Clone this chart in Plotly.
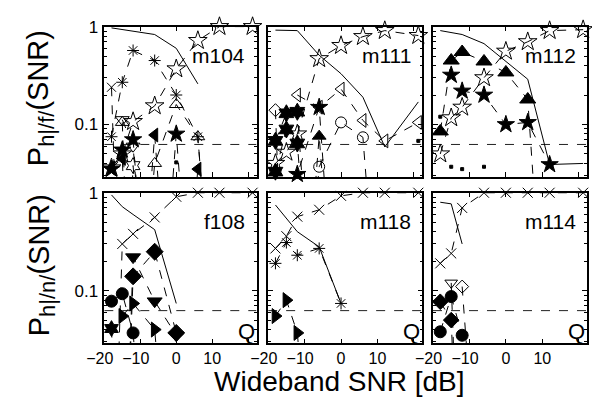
import math
import plotly.graph_objects as go

# ---------------- data ----------------
SNR = [-18, -15, -12, -6, 0, 6, 12, 21.2]   # last one = Q (quiet)
CHANCE = 1 / 16
X_RANGE = [-20, 22.3]
Y_MIN = 0.029

# panel m104 (P_h|/f/)
m104_err = [0.97, 0.93, 0.90, 0.83, 0.60, 0.26, None, None]
m104_f = [0.036, 0.05, 0.107, 0.155, 0.37, 0.72, 1.0, 1.0]
m104_ast = [0.075, 0.27, 0.57, 0.45, 0.20, 0.075, 0, None]
m104_x = [0.24, 0, None, None, None, None, None, None]
m104_triup = [None, 0.105, 0, 0.04, 0.16, 0.075, 0, None]
m104_tridown = [None, 0.112, 0.06, 0, None, None, None, None]
m104_hex = [None, 0, 0.038, 0, None, None, None, None]
m104_starf = [0.035, 0.055, 0.07, 0, 0.08, 0, None, None]
m104_trileft = [0.036, 0.045, 0, 0.078, 0, 0.035, None, None]
m104_dot = [None, None, None, None, 0.041, None, None, None]

# panel m111
m111_err = [0.92, 0.92, 0.91, 0.51, 0.33, 0.19, 0.059, 0.17]
m111_f = [0.04, 0.052, 0.08, 0.47, 0.64, 0.79, 0.91, 0.81]
m111_trileft = [None, None, 0.20, 0.15, 0.23, 0.11, 0.068, 0.105]
m111_circ = [None, None, 0, 0.037, 0.105, 0.074, 0, None]
m111_diam = [0.14, 0, None, None, None, None, None, None]
m111_hexA = [0.068, 0.13, 0.135, 0, None, None, None, None]
m111_hexB = [0.033, 0.089, 0.064, 0, None, None, None, None]
m111_starf = [None, 0, 0.031, 0.15, 0, None, None, None]
m111_triupf = [None, None, 0, 0.076, 0, None, None, None]
m111_dot = [None, None, None, None, None, None, None, 0.068]

# panel m112
m112_err = [0.91, 0.87, 0.83, 0.67, 0.44, 0.29, 0.039, 0.04]
m112_f = [0.05, 0.117, 0.15, 0.30, 0.56, 0.70, 0.91, 0.93]
m112_triupf = [0.085, 0.45, 0.55, 0.44, 0.34, 0.18, 0, None]
m112_starf = [None, 0.32, 0.22, 0.20, 0.10, 0.105, 0.039, None]
m112_dot = [0.12, 0.037, 0.035, 0.037, None, None, None, None]

# panel f108 (P_h|/n/)
f108_err = [0.95, 0.72, 0.60, 0.42, 0.074, None, None, None]
f108_x = [0, 0.30, 0.38, 0.56, 0.91, 1.0, 1.0, 1.0]
f108_tridown = [None, 0, 0.22, 0.078, 0.035, None, None, None]
f108_diam = [None, 0, 0.14, 0.25, 0.037, None, None, None]
f108_circ = [0.078, 0.093, 0.037, 0, None, None, None, None]
f108_triright = [None, 0.055, 0.074, 0.04, 0, None, None, None]
f108_hex = [0.041, 0, None, None, None, None, None, None]

# panel m118
m118_err = [0.75, 0.55, 0.40, 0.28, 0.074, None, None, None]
m118_x = [0.27, 0.36, 0.57, 0.67, 0.93, 1.0, 1.0, 1.0]
m118_ast = [0.19, 0.31, 0.23, 0.27, 0.074, None, None, None]
m118_triright = [0.055, 0.08, 0.037, 0, None, None, None, None]

# panel m114
m114_err = [0.80, 0.77, 0.30, None, None, None, None, None]
m114_x = [0.19, 0.24, 0.70, 1.0, 1.0, 1.0, 1.0, 1.0]
m114_tridown = [None, 0.12, 0, None, None, None, None, None]
m114_diam = [None, None, 0.11, 0, None, None, None, None]
m114_circ = [0.038, 0.087, 0.035, None, None, None, None, None]
m114_diamf = [0.077, 0.05, 0, None, None, None, None, None]

PANEL_NAMES = ["m104", "m111", "m112", "f108", "m118", "m114"]
Y_TITLES = ["P<sub><span style='font-size:22px'>h|/f/</span></sub>(SNR)",
            "P<sub><span style='font-size:22px'>h|/n/</span></sub>(SNR)"]
X_TITLE = "Wideband SNR [dB]"
X_TICKS = [-20, -10, 0, 10, 20]
X_TICKTEXT = ["\u221220\u2007", "\u221210\u2007", "0", "10", ""]

# ---------------- layout geometry (pixels) ----------------
W, H = 592, 398
COLS_PX = [(89, 246), (258, 417), (428, 587)]
ROWS_PX = [(18, 172), (188, 342)]
FONT = "Liberation Sans, Arial, Helvetica, sans-serif"

fig = go.Figure()

def ax_id(i):
    return "" if i == 0 else str(i + 1)

ZERO = 1e-4

def add(panel, vals, symbol=None, size=11, line="dash", lw=1.0):
    a = ax_id(panel)
    ys = [None if v is None else (ZERO if v == 0 else v) for v in vals]
    sizes = [0 if (v == 0 or v is None) else size for v in vals]
    mode = "lines" if symbol is None else ("markers" if line is None else "lines+markers")
    tr = dict(
        x=SNR, y=ys, mode=mode, showlegend=False, hoverinfo="skip",
        xaxis="x" + a, yaxis="y" + a, cliponaxis=False,
    )
    if line is not None:
        tr["line"] = dict(color="black", width=lw, dash=line)
    if symbol is not None:
        tr["marker"] = dict(symbol=symbol, size=sizes, color="black", opacity=1,
                            line=dict(color="black", width=1))
    fig.add_trace(go.Scatter(**tr))

# chance lines
for p in range(6):
    a = ax_id(p)
    fig.add_trace(go.Scatter(x=X_RANGE, y=[CHANCE, CHANCE], mode="lines",
                             line=dict(color="#222", width=1, dash="dash"),
                             showlegend=False, hoverinfo="skip",
                             xaxis="x" + a, yaxis="y" + a))

# panel 0: m104
add(0, m104_err, None, line="solid")
add(0, m104_f, "star-open", 14)
add(0, m104_ast, "asterisk-open", 10)
add(0, m104_x, "x-thin-open", 9)
add(0, m104_triup, "triangle-up-open", 12)
add(0, m104_tridown, "triangle-down-open", 12)
add(0, m104_hex, "hexagram-open", 12)
add(0, m104_starf, "star", 13)
add(0, m104_trileft, "triangle-left", 12)
add(0, m104_dot, "square", 3, line=None)
# panel 1: m111
add(1, m111_err, None, line="solid")
add(1, m111_f, "star-open", 14)
add(1, m111_trileft, "triangle-left-open", 12)
add(1, m111_circ, "circle-open", 11)
add(1, m111_diam, "diamond-open", 10)
add(1, m111_hexA, "hexagram", 13)
add(1, m111_hexB, "hexagram", 13)
add(1, m111_starf, "star", 13)
add(1, m111_triupf, "triangle-up", 12)
add(1, m111_dot, "square", 3, line=None)
# panel 2: m112
add(2, m112_err, None, line="solid")
add(2, m112_f, "star-open", 14)
add(2, m112_triupf, "triangle-up", 14)
add(2, m112_starf, "star", 13)
add(2, m112_dot, "square", 3, line=None)
# panel 3: f108
add(3, f108_err, None, line="solid")
add(3, f108_x, "x-thin-open", 10)
add(3, f108_tridown, "triangle-down", 13)
add(3, f108_diam, "diamond", 13)
add(3, f108_circ, "circle", 12)
add(3, f108_triright, "triangle-right", 13)
add(3, f108_hex, "hexagram", 12)
# panel 4: m118
add(4, m118_err, None, line="solid")
add(4, m118_x, "x-thin-open", 10)
add(4, m118_ast, "asterisk-open", 10)
add(4, m118_triright, "triangle-right", 13)
# panel 5: m114
add(5, m114_err, None, line="solid")
add(5, m114_x, "x-thin-open", 10)
add(5, m114_tridown, "triangle-down-open", 11)
add(5, m114_diam, "diamond-open", 10)
add(5, m114_circ, "circle", 12)
add(5, m114_diamf, "diamond", 12)

minor_vals = [k * 10 ** e for e in (-2, -1) for k in range(2, 10)]

annotations = []
for p in range(6):
    r, c = divmod(p, 3)
    x0, x1 = COLS_PX[c]
    y0, y1 = ROWS_PX[r]
    a = ax_id(p)
    xa = dict(domain=[x0 / W, x1 / W], range=X_RANGE, anchor="y" + a,
              showline=True, linecolor="black", linewidth=1.5, mirror="allticks",
              ticks="inside", ticklen=5, tickcolor="black",
              tickvals=X_TICKS, ticktext=X_TICKTEXT, tickangle=0,
              showgrid=False, zeroline=False, showticklabels=(r == 1),
              ticklabelstandoff=0,
              tickfont=dict(family=FONT, size=16, color="black"))
    ya = dict(domain=[1 - y1 / H, 1 - y0 / H], type="log",
              range=[math.log10(Y_MIN), 0], anchor="x" + a,
              showline=True, linecolor="black", linewidth=1.5, mirror="allticks",
              ticks="inside", ticklen=5, tickcolor="black",
              tickvals=[0.1, 1], ticktext=["0.1", "1"],
              minor=dict(tickvals=minor_vals, ticks="inside", ticklen=3, tickcolor="black"),
              showgrid=False, zeroline=False, showticklabels=(c == 0),
              ticklabelstandoff=1,
              tickfont=dict(family=FONT, size=17, color="black"))
    fig.update_layout(**{"xaxis" + a: xa, "yaxis" + a: ya})
    annotations.append(dict(text=PANEL_NAMES[p], xref="x" + a + " domain", yref="y" + a + " domain",
                            x=0.94, y=0.81, xanchor="right", yanchor="middle", showarrow=False,
                            font=dict(family=FONT, size=21, color="black")))
    if r == 1:
        annotations.append(dict(text="Q", xref="x" + a + " domain", yref="y" + a + " domain",
                                x=1.0, y=0.08, xanchor="right", yanchor="middle", showarrow=False,
                                font=dict(family=FONT, size=22, color="black")))

Y_TITLE_CENTERS = [91, 262]
for r in range(2):
    annotations.append(dict(text=Y_TITLES[r], xref="paper", yref="paper",
                            x=24 / W, y=1 - Y_TITLE_CENTERS[r] / H, textangle=-90,
                            xanchor="center", yanchor="middle", showarrow=False,
                            font=dict(family=FONT, size=29, color="black")))
annotations.append(dict(text=X_TITLE, xref="paper", yref="paper", x=332 / W, y=1 - 381 / H,
                        xanchor="center", yanchor="middle", showarrow=False,
                        font=dict(family=FONT, size=28, color="black")))

fig.update_layout(width=W, height=H, margin=dict(l=0, r=0, t=0, b=0),
                  paper_bgcolor="white", plot_bgcolor="white",
                  annotations=annotations, showlegend=False)

fig.write_html("out.html")
